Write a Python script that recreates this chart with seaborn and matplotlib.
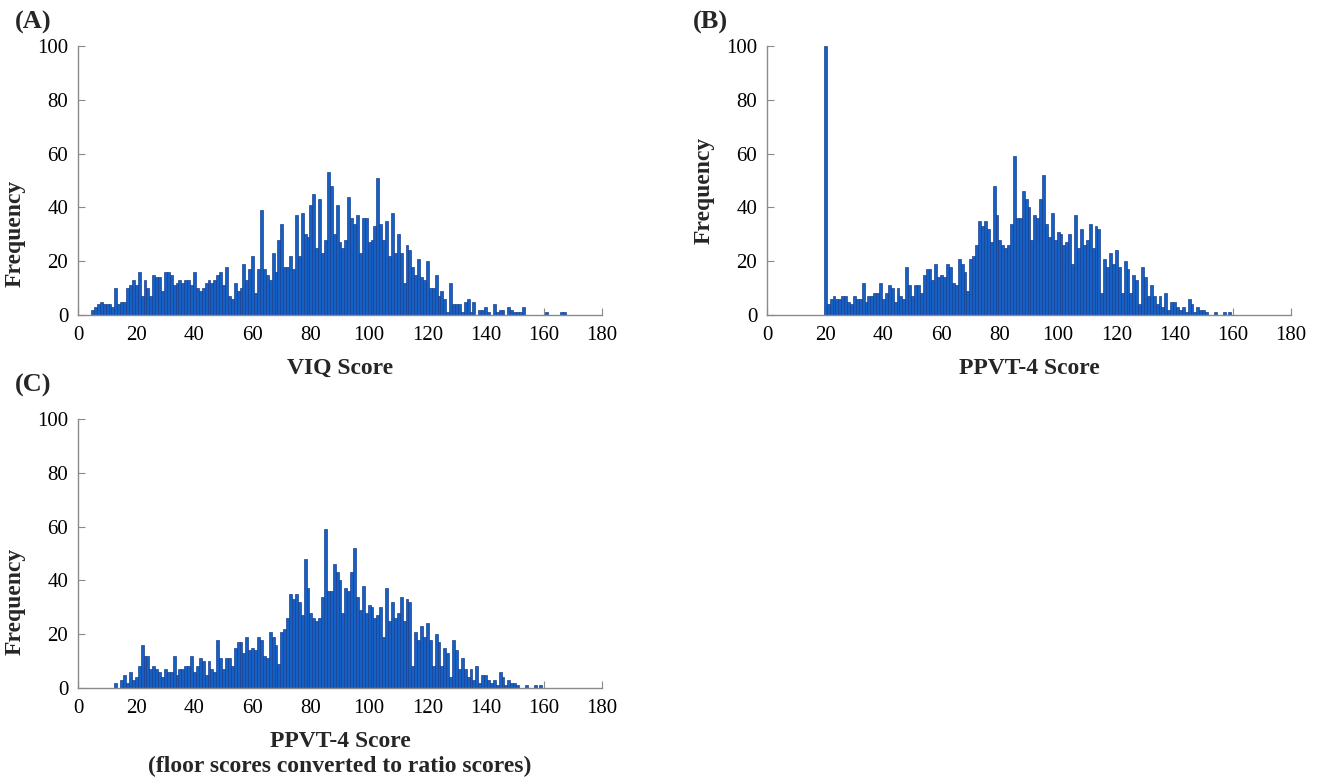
import numpy as np
import pandas as pd
import matplotlib
matplotlib.use("Agg")
import matplotlib.pyplot as plt
import seaborn as sns

# ---------------- data ----------------
# (A) VIQ score: counts for scores 5..167
viq_start = 5
viq_counts = [
    2, 3, 4, 5, 4, 4, 4, 3, 10, 4,            # 5-14
    5, 5, 10, 11, 13, 11, 16, 7, 13, 10,      # 15-24
    7, 15, 14, 14, 9, 16, 16, 15, 11, 12,     # 25-34
    13, 12, 13, 13, 11, 16, 10, 9, 10, 12,    # 35-44
    13, 12, 13, 15, 16, 11, 18, 7, 6, 12,     # 45-54
    9, 10, 19, 13, 17, 22, 8, 17, 39, 17,     # 55-64
    15, 13, 23, 16, 28, 34, 18, 18, 22, 17,   # 65-74
    37, 22, 38, 30, 29, 41, 45, 25, 43, 23,   # 75-84
    28, 53, 48, 30, 41, 27, 25, 28, 44, 36,   # 85-94
    34, 37, 23, 36, 36, 27, 28, 33, 51, 34,   # 95-104
    28, 35, 22, 38, 23, 30, 23, 12, 26, 24,   # 105-114
    18, 15, 21, 14, 13, 20, 10, 10, 15, 7,    # 115-124
    9, 6, 1, 12, 4, 4, 4, 1, 5, 6,            # 125-134
    1, 5, 0, 2, 2, 3, 1, 0, 4, 1,             # 135-144
    2, 2, 0, 3, 2, 1, 1, 1, 3, 0,             # 145-154
    0, 0, 0, 0, 0, 0, 1, 0, 0, 0,             # 155-164
    0, 1, 1,                                   # 165-167
]

# (B) PPVT-4 score: counts for scores 20..159 (floor at 20)
ppvt_start = 20
ppvt_counts = [
    100,                                       # 20
    4, 6, 7, 6, 6, 7, 7, 5, 4, 7,             # 21-30
    6, 6, 12, 5, 7, 7, 8, 8, 12, 6,           # 31-40
    8, 11, 10, 5, 10, 7, 6, 18, 11, 7,        # 41-50
    11, 11, 8, 15, 17, 17, 13, 19, 14, 15,    # 51-60
    14, 19, 18, 12, 11, 21, 19, 16, 9, 21,    # 61-70
    22, 26, 35, 33, 35, 32, 27, 48, 37, 28,   # 71-80
    26, 25, 26, 34, 59, 36, 36, 46, 43, 40,   # 81-90
    28, 37, 36, 43, 52, 34, 29, 38, 28, 31,   # 91-100
    30, 26, 27, 30, 19, 37, 25, 32, 26, 28,   # 101-110
    34, 25, 33, 32, 8, 21, 18, 23, 19, 24,    # 111-120
    18, 8, 20, 17, 8, 15, 13, 4, 18, 14,      # 121-130
    7, 11, 7, 4, 7, 3, 8, 2, 5, 5,            # 131-140
    3, 2, 3, 1, 6, 4, 1, 3, 2, 2,             # 141-150
    1, 0, 0, 1, 0, 0, 1, 0, 1,                # 151-159
]

# (C) floor scores converted to ratio scores: scores 13..29 differ, 30+ same as (B)
ratio_low_start = 13
ratio_low_counts = [2, 0, 3, 5, 2, 6, 3, 4, 8, 16, 12, 12, 7, 8, 7, 6, 4]   # 13-29
ratio_shared_from = 30

x_ticks = [0, 20, 40, 60, 80, 100, 120, 140, 160, 180]
y_ticks = [0, 20, 40, 60, 80, 100]
panel_letters = ["(A)", "(B)", "(C)"]
x_labels = ["VIQ Score", "PPVT-4 Score",
            "PPVT-4 Score\n(floor scores converted to ratio scores)"]
y_label = "Frequency"

# ---------------- build frames ----------------
def frame(start, counts):
    return pd.DataFrame({"score": np.arange(start, start + len(counts)),
                         "count": counts})

df_a = frame(viq_start, viq_counts)
df_b = frame(ppvt_start, ppvt_counts)
shared = ppvt_counts[ratio_shared_from - ppvt_start:]
df_c = frame(ratio_low_start, ratio_low_counts + shared)

# ---------------- style ----------------
sns.set_style("ticks")
plt.rcParams["font.family"] = ["Liberation Serif", "DejaVu Serif"]

W, H = 1320, 779
fig = plt.figure(figsize=(W / 100, H / 100), dpi=100)

def px_axes(left, top, right, bottom):
    return fig.add_axes([left / W, 1 - bottom / H, (right - left) / W, (bottom - top) / H])

ax_a = px_axes(78, 46, 602, 315)
ax_b = px_axes(767, 46, 1291, 315)
ax_c = px_axes(78, 419, 602, 688)

face = "#1560c4"
edge = "#1b3f8f"
spine_col = "#8a8a8a"

# per-panel label placement (axes fractions)
ylabel_y = [0.305, 0.465, 0.323]
letter_xy = [(-0.120, 1.088), (-0.141, 1.088), (-0.120, 1.125)]

for i, (ax, df, letter, xl) in enumerate(zip([ax_a, ax_b, ax_c], [df_a, df_b, df_c],
                                             panel_letters, x_labels)):
    sns.histplot(data=df, x="score", weights="count", discrete=True, ax=ax,
                 color=face, edgecolor=edge, linewidth=0.5, alpha=1.0)
    ax.set_xlim(0, 180)
    ax.set_ylim(0, 100)
    ax.set_xticks(x_ticks)
    ax.set_yticks(y_ticks)
    ax.tick_params(direction="in", length=5, width=0.8, color=spine_col,
                   labelsize=15, labelcolor="black")
    ax.tick_params(axis="x", pad=8)
    ax.tick_params(axis="y", pad=7)
    for s in ["top", "right"]:
        ax.spines[s].set_visible(False)
    for s in ["left", "bottom"]:
        ax.spines[s].set_color(spine_col)
        ax.spines[s].set_linewidth(1.0)
    ax.set_xlabel(xl, fontsize=17, fontweight="bold", labelpad=9, linespacing=1.25)
    ax.set_ylabel(y_label, fontsize=17, fontweight="bold")
    ax.yaxis.set_label_coords(-0.100, ylabel_y[i])
    lx, ly = letter_xy[i]
    ax.text(lx, ly, letter, transform=ax.transAxes,
            fontsize=19, fontweight="bold", ha="left", va="center")

fig.savefig("out.png", dpi=100)
